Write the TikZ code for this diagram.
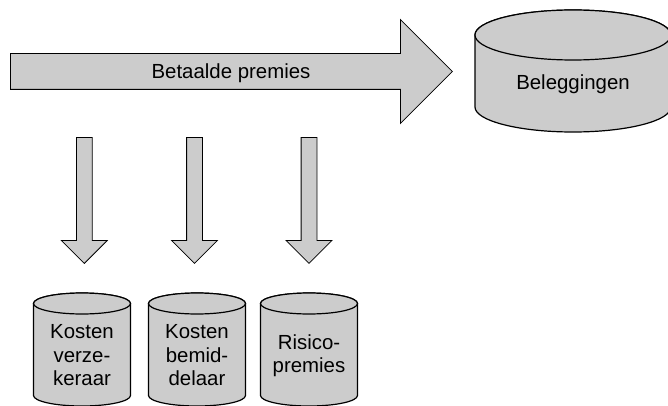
\documentclass[tikz,border=0pt]{standalone}
\usepackage{fontspec}
\setmainfont{Liberation Sans}
\usepackage{xcolor}
\usepackage{tikz}
\definecolor{vatgray}{RGB}{204,204,204}
\tikzset{
	vatvorm/.style={draw, fill=vatgray, line width=1.2pt},
	pijl/.style={single arrow, draw, fill=vatgray, line width=0.8pt,
			single arrow head indent=0pt, anchor=tail},
	% halve breedte, straal deksel, halve afstand deksels, tekst-y, tekst
	pics/vat/.style n args={5}{code={
				\path[vatvorm] (-#1,#3) -- (-#1,-#3)
				arc[start angle=180, end angle=360, x radius=#1, y radius=#2]
				-- (#1,#3)
				arc[start angle=0, end angle=180, x radius=#1, y radius=#2] -- cycle;
				\path[vatvorm] (0,#3) ellipse [x radius=#1, y radius=#2];
				\node[tekst, align=center] (-tekst) at (0,#4) {#5};
			}}
}
\tikzstyle{tekst} = [font=\fontsize{20.4}{23.5}\selectfont]
\usetikzlibrary{shapes.arrows}

\begin{document}
\begin{tikzpicture}[x=1pt, y=1pt]
  \useasboundingbox (0,0) rectangle (668,405);
  \node[pijl, minimum height=442pt, inner sep=17.5pt,
    single arrow head extend=34pt] (BP) at (10,333.5) {};
  \node[tekst] (BPtekst) at ([xshift=221pt, yshift=-1.5pt]BP.tail) {Betaalde premies};
  \pic (BL) at (573,334) {vat={98}{25}{36}{-13.7}{Beleggingen}};

  \foreach \x/\naam in {84.3/KV, 194.5/KB, 309/RP}
    \node[pijl, rotate=-90, minimum height=126pt, inner sep=7.5pt,
      single arrow head extend=15pt] (p\naam) at (\x,268) {};

  \pic (KV) at (82,55.5) {vat={48.5}{10.5}{46}{-6}{Kosten\\verze-\\keraar}};
  \pic (KB) at (197,55.5) {vat={48.5}{10.5}{46}{-6}{Kosten\\bemid-\\delaar}};
  \pic (RP) at (309,55.5) {vat={48.5}{10.5}{46}{-6}{Risico-\\premies}};
\end{tikzpicture}
\end{document}
